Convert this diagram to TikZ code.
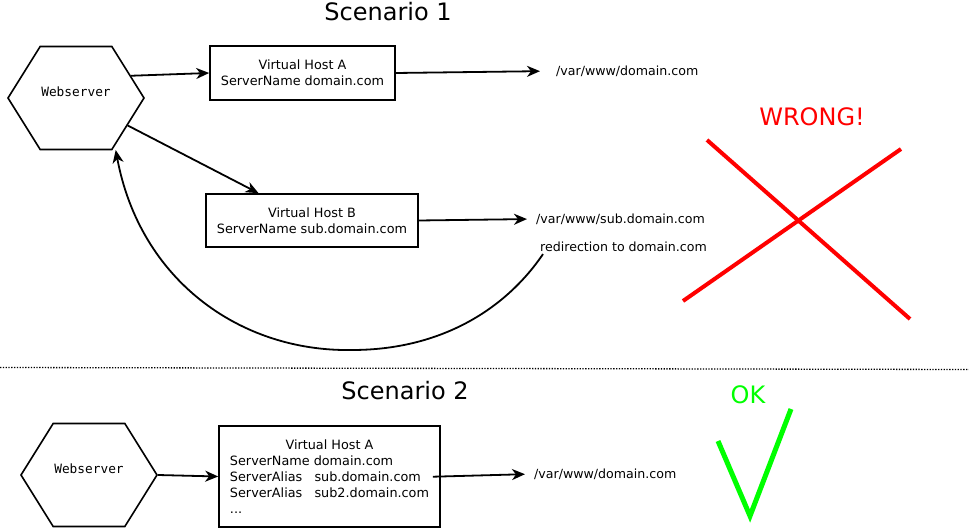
\documentclass[tikz,border=0pt]{standalone}
\usepackage{fontspec}
\setmainfont{DejaVu Sans}
\setmonofont{DejaVu Sans Mono}
\usetikzlibrary{positioning,calc,shapes.symbols,arrows.meta}

\begin{document}
\begin{tikzpicture}[x=1pt, y=-1pt,
	% hexagon of the webserver
	websrv/.style={
		signal, signal to=west and east, signal pointer angle=116,
		draw=black, line width=1.6pt,
		minimum width=136pt, minimum height=103pt, inner sep=0pt,
		text depth=12pt,
		font=\fontsize{12.8}{16}\selectfont\ttfamily
	},
	% virtual host box
	vhost/.style={
		rectangle, draw=black, line width=1.6pt, inner sep=0pt,
		font=\fontsize{12.8}{16}\selectfont, align=center
	},
	% document root label
	docroot/.style={
		anchor=west, inner sep=2pt, font=\fontsize{12.6}{16}\selectfont
	},
	title/.style={font=\fontsize{24}{28}\selectfont},
	conn/.style={-{Stealth[length=13pt,width=11pt,inset=4pt]}, line width=1.8pt},
	cross/.style={red, line width=4pt},
	tick/.style={green, line width=5pt}
	]
	\useasboundingbox (0,0) rectangle (969,529);
	
	% --- Scenario 1 ---
	\node[title] (title1) at (388,12) {Scenario 1};
	
	\node[websrv] (web1) at (76,98) {Webserver};
	\node[vhost, minimum width=185pt, minimum height=54pt] (vhA) at (302.5,73)
		{Virtual Host A\\ServerName domain.com};
	\node[vhost, minimum width=212pt, minimum height=53pt] (vhB) at (312,220.5)
		{Virtual Host B\\ServerName sub.domain.com};
	
	\node[docroot] (pathA) at (554,71) {/var/www/domain.com};
	\node[docroot] (pathB) at (534,219) {/var/www/sub.domain.com};
	\node[docroot] (redir) at (538,247) {redirection to domain.com};
	
	\draw[conn] (web1.22) -- (vhA.west);
	\draw[conn] (web1.-28) -- ($(vhB.north west)!0.25!(vhB.north east)$);
	\draw[conn, shorten >=14pt] (vhA.east) -- (pathA.west);
	\draw[conn, shorten >=7pt] (vhB.east) -- (pathB.west);
	
	% redirect goes back to the webserver
	\draw[conn] ([xshift=5pt]redir.south west)
		.. controls (505,310) and (440,350) .. (352,350)
		.. controls (240,352) and (140,280) .. ([xshift=2pt,yshift=-2pt]web1.-53);
	
	% wrong
	\node[red, title] (wrong) at (812,117) {WRONG!};
	\draw[cross] (707,140) -- (910,319);
	\draw[cross] (683,301) -- (901,149);
	
	% separator
	\draw[line width=1.3pt, dash pattern=on 1.3pt off 1.5pt] (0,367.5) -- (969,369.5);
	
	% --- Scenario 2 ---
	\node[title] (title2) at (405,391) {Scenario 2};
	
	\node[websrv] (web2) at (89,475) {Webserver};
	\node[vhost, minimum width=221pt, minimum height=101pt] (vhC) at (329.5,476.5)
		{\raisebox{-2pt}[\height][\depth]{\begin{tabular}{@{}l@{}}
			\multicolumn{1}{@{}c@{}}{Virtual Host A}\\
			ServerName domain.com\\
			ServerAlias\ \ \ sub.domain.com\\
			ServerAlias\ \ \ sub2.domain.com\\
			...
		\end{tabular}}};
	
	\node[docroot] (pathC) at (532,474) {/var/www/domain.com};
	
	\draw[conn] (web2.east) -- (vhC.west);
	\draw[conn, shorten <=-8pt, shorten >=7pt] (vhC.east) -- (pathC.west);
	
	% ok
	\node[green, title] (ok) at (748,395) {OK};
	\draw[tick] (718,441) -- (750,516) -- (791,409);
	
\end{tikzpicture}
\end{document}
